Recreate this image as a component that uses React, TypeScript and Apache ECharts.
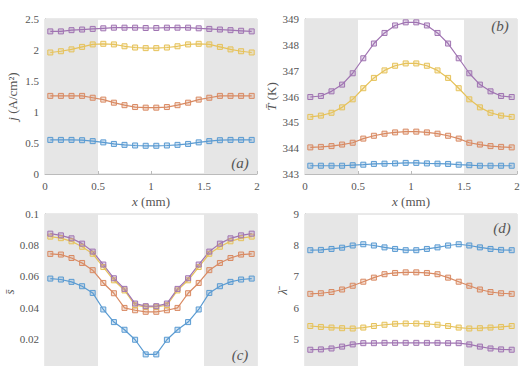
import React, { useEffect, useRef } from "react";
import * as echarts from "echarts";

const xs = [0.05, 0.15, 0.25, 0.35, 0.45, 0.55, 0.65, 0.75, 0.85, 0.95, 1.05, 1.15, 1.25, 1.35, 1.45, 1.55, 1.65, 1.75, 1.85, 1.95];

// (a) current density j (A/cm^2)
const jBlue = [0.55, 0.55, 0.55, 0.545, 0.53, 0.51, 0.485, 0.47, 0.46, 0.455, 0.455, 0.46, 0.47, 0.485, 0.51, 0.53, 0.545, 0.55, 0.55, 0.55];
const jOrange = [1.26, 1.26, 1.26, 1.26, 1.23, 1.2, 1.15, 1.11, 1.08, 1.07, 1.07, 1.08, 1.11, 1.15, 1.2, 1.23, 1.26, 1.26, 1.26, 1.26];
const jYellow = [1.96, 1.98, 2.01, 2.05, 2.09, 2.1, 2.09, 2.06, 2.04, 2.03, 2.03, 2.04, 2.06, 2.09, 2.1, 2.09, 2.05, 2.01, 1.98, 1.96];
const jPurple = [2.3, 2.3, 2.32, 2.33, 2.34, 2.35, 2.36, 2.36, 2.36, 2.355, 2.355, 2.36, 2.36, 2.36, 2.35, 2.34, 2.33, 2.32, 2.31, 2.3];

// (b) temperature T (K)
const tBlue = [343.32, 343.32, 343.32, 343.32, 343.34, 343.36, 343.39, 343.4, 343.41, 343.43, 343.43, 343.41, 343.4, 343.39, 343.36, 343.34, 343.32, 343.32, 343.32, 343.32];
const tOrange = [344.03, 344.05, 344.08, 344.14, 344.21, 344.37, 344.48, 344.56, 344.61, 344.64, 344.64, 344.61, 344.56, 344.48, 344.37, 344.21, 344.14, 344.08, 344.05, 344.03];
const tYellow = [345.21, 345.26, 345.37, 345.58, 345.89, 346.32, 346.72, 347.01, 347.19, 347.28, 347.28, 347.19, 347.01, 346.72, 346.32, 345.89, 345.58, 345.37, 345.26, 345.21];
const tPurple = [345.98, 346.02, 346.2, 346.46, 346.9, 347.48, 348.05, 348.46, 348.75, 348.87, 348.87, 348.75, 348.46, 348.05, 347.48, 346.9, 346.46, 346.2, 346.02, 345.98];

// (c) s
const sBlue = [0.0586, 0.058, 0.0565, 0.0537, 0.0494, 0.0388, 0.0307, 0.0258, 0.0194, 0.01, 0.01, 0.0194, 0.0258, 0.0307, 0.0388, 0.0494, 0.0537, 0.0565, 0.058, 0.0586];
const sOrange = [0.0744, 0.074, 0.0718, 0.0686, 0.064, 0.0558, 0.0492, 0.0398, 0.0383, 0.0373, 0.0373, 0.0383, 0.0398, 0.0492, 0.0558, 0.064, 0.0686, 0.0718, 0.074, 0.0744];
const sYellow = [0.0855, 0.0845, 0.0825, 0.079, 0.0745, 0.066, 0.0575, 0.051, 0.0415, 0.0405, 0.0405, 0.0415, 0.051, 0.0575, 0.066, 0.0745, 0.079, 0.0825, 0.0845, 0.0855];
const sPurple = [0.0874, 0.0863, 0.0844, 0.081, 0.0759, 0.0676, 0.0588, 0.052, 0.0426, 0.0409, 0.0409, 0.0426, 0.052, 0.0588, 0.0676, 0.0759, 0.081, 0.0844, 0.0863, 0.0874];

// (d) lambda
const lBlue = [7.84, 7.85, 7.88, 7.92, 7.99, 8.03, 7.99, 7.93, 7.88, 7.84, 7.84, 7.88, 7.93, 7.99, 8.03, 7.99, 7.93, 7.88, 7.85, 7.84];
const lOrange = [6.44, 6.46, 6.5, 6.58, 6.7, 6.83, 6.96, 7.07, 7.11, 7.13, 7.13, 7.11, 7.07, 6.96, 6.83, 6.7, 6.58, 6.5, 6.46, 6.44];
const lYellow = [5.41, 5.38, 5.36, 5.34, 5.33, 5.36, 5.41, 5.45, 5.48, 5.49, 5.49, 5.48, 5.45, 5.41, 5.36, 5.33, 5.34, 5.36, 5.38, 5.41];
const lPurple = [4.65, 4.66, 4.69, 4.75, 4.82, 4.86, 4.86, 4.87, 4.87, 4.87, 4.87, 4.87, 4.87, 4.86, 4.86, 4.82, 4.75, 4.69, 4.66, 4.65];

const panelLetters = ["(a)", "(b)", "(c)", "(d)"];

const COLORS = ["#5a9bd2", "#d98a63", "#e6c25a", "#a074b2"];
const FILLS = ["rgba(90,155,210,0.25)", "rgba(217,138,99,0.25)", "rgba(230,194,90,0.25)", "rgba(160,116,178,0.25)"];
const FONT = "serif";
const TXT = "#555";

export default function App() {
  const ref = useRef<HTMLDivElement>(null);
  useEffect(() => {
    if (!ref.current) return;
    const chart = echarts.init(ref.current, undefined, { renderer: "svg" });

    const grids = [
      { left: 45, top: 19, width: 212, height: 155 },
      { left: 305, top: 19, width: 212, height: 155 },
      { left: 45, top: 214, width: 212, height: 156 },
      { left: 305, top: 214, width: 212, height: 156 },
    ].map((g) => ({
      ...g,
      show: true,
      borderColor: "#d4d4d4",
      borderWidth: 1,
      backgroundColor: "transparent",
      containLabel: false,
      outerBoundsMode: "none",
    }));

    const xAxis = [0, 1, 2, 3].map((i) => ({
      type: "value",
      gridIndex: i,
      min: 0,
      max: 2,
      interval: 0.5,
      name: i < 2 ? "{i|x} (mm)" : "",
      nameLocation: "middle",
      nameGap: 21,
      nameTextStyle: {
        fontFamily: FONT,
        fontSize: 13,
        color: TXT,
        rich: { i: { fontFamily: FONT, fontStyle: "italic", fontSize: 13, color: TXT } },
      },
      axisLine: { show: true, lineStyle: { color: "#bbb", width: 1 } },
      axisTick: { show: true, inside: true, length: 3, lineStyle: { color: "#bbb" } },
      axisLabel: { show: i < 2, fontFamily: FONT, fontSize: 11, color: TXT, margin: 6 },
      splitLine: { show: false },
    }));

    const yCfg = [
      { min: 0, max: 2.5, interval: 0.5, name: "{i|j} (A/cm²)", gap: 26 },
      { min: 343, max: 349, interval: 1, name: "{i|T̄} (K)", gap: 27 },
      { min: 0, max: 0.1, interval: 0.02, name: "{i|s̄}", gap: 29 },
      { min: 4, max: 9, interval: 1, name: "{i|λ̄}", gap: 16 },
    ];

    const yAxis = yCfg.map((c, i) => ({
      type: "value",
      gridIndex: i,
      min: c.min,
      max: c.max,
      interval: c.interval,
      name: c.name,
      nameLocation: "middle",
      nameRotate: 90,
      nameGap: c.gap,
      nameTextStyle: {
        fontFamily: FONT,
        fontSize: 13,
        color: TXT,
        rich: { i: { fontFamily: FONT, fontStyle: "italic", fontSize: 13, color: TXT } },
      },
      axisLine: { show: true, lineStyle: { color: "#bbb", width: 1 } },
      axisTick: { show: true, inside: true, length: 3, lineStyle: { color: "#bbb" } },
      axisLabel: { fontFamily: FONT, fontSize: 11, color: TXT, margin: 6, showMinLabel: i < 2 },
      splitLine: { show: false },
    }));

    const panels = [
      [jBlue, jOrange, jYellow, jPurple],
      [tBlue, tOrange, tYellow, tPurple],
      [sBlue, sOrange, sYellow, sPurple],
      [lBlue, lOrange, lYellow, lPurple],
    ];

    const series: any[] = [];
    panels.forEach((set, p) => {
      set.forEach((ys, k) => {
        const s: any = {
          type: "line",
          xAxisIndex: p,
          yAxisIndex: p,
          data: xs.map((x, j) => [x, ys[j]]),
          symbol: "rect",
          symbolSize: 5,
          showSymbol: true,
          lineStyle: { color: COLORS[k], width: 1.2 },
          itemStyle: { color: FILLS[k], borderColor: COLORS[k], borderWidth: 1 },
          z: 3,
        };
        if (k === 0) {
          s.markArea = {
            silent: true,
            itemStyle: { color: "#e6e6e6" },
            data: [
              [{ xAxis: 0 }, { xAxis: 0.5 }],
              [{ xAxis: 1.5 }, { xAxis: 2 }],
            ],
          };
        }
        series.push(s);
      });
    });

    const letterPos = [
      [240, 163],
      [500, 26],
      [240, 355],
      [502, 228],
    ];

    const graphic = panelLetters.map((t, i) => ({
      type: "text",
      x: letterPos[i][0],
      y: letterPos[i][1],
      z: 10,
      style: {
        text: t,
        fontFamily: FONT,
        fontStyle: "italic",
        fontSize: 15,
        fill: TXT,
        align: "center",
        verticalAlign: "middle",
      },
    }));

    chart.setOption({
      animation: false,
      backgroundColor: "#fff",
      grid: grids,
      xAxis,
      yAxis,
      series,
      graphic,
    });
    return () => chart.dispose();
  }, []);
  return (
    <div
      ref={ref}
      style={{ position: "fixed", left: 0, top: 0, width: 521, height: 366 }}
    />
  );
}
